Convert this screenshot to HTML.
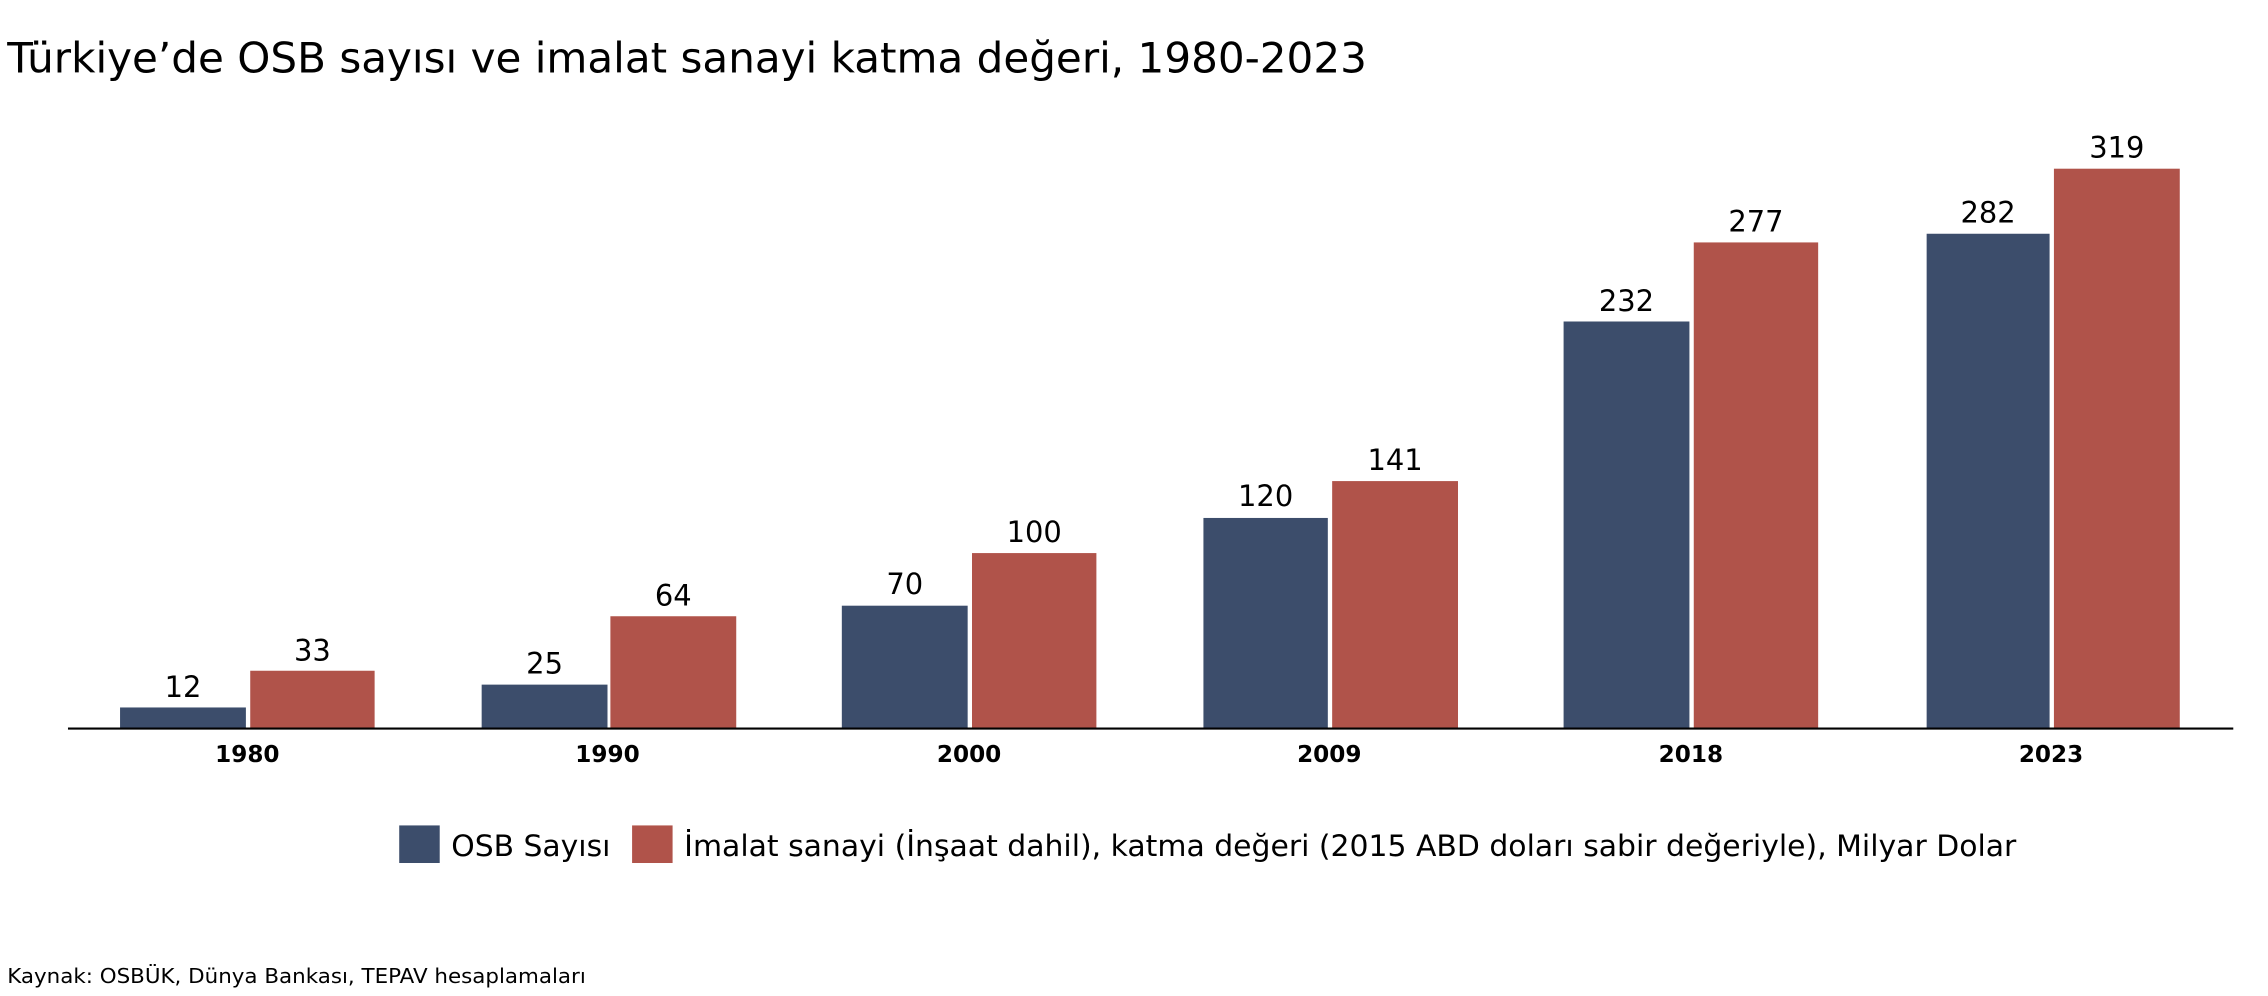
<!DOCTYPE html>
<html><head><meta charset="utf-8"><style>
html,body{margin:0;padding:0;background:#fff;}
svg{display:block;}
text{font-family:"DejaVu Sans","Liberation Sans",sans-serif;fill:#000;}
</style></head><body>
<svg width="2268" height="996" viewBox="0 0 1568 689" preserveAspectRatio="none" xmlns="http://www.w3.org/2000/svg">
<text x="5" y="50" font-size="29" textLength="940" lengthAdjust="spacingAndGlyphs">Türkiye’de OSB sayısı ve imalat sanayi katma değeri, 1980-2023</text>
<g>
<rect x="83" y="489.4" width="87" height="14.6" fill="#3c4d6b"/>
<rect x="173" y="464" width="86" height="40" fill="#b0534a"/>
<rect x="333" y="473.6" width="87" height="30.4" fill="#3c4d6b"/>
<rect x="422" y="426.3" width="87" height="77.7" fill="#b0534a"/>
<rect x="582" y="419" width="87" height="85" fill="#3c4d6b"/>
<rect x="672" y="382.6" width="86" height="121.4" fill="#b0534a"/>
<rect x="832" y="358.3" width="86" height="145.7" fill="#3c4d6b"/>
<rect x="921" y="332.8" width="87" height="171.2" fill="#b0534a"/>
<rect x="1081" y="222.4" width="87" height="281.6" fill="#3c4d6b"/>
<rect x="1171" y="167.7" width="86" height="336.3" fill="#b0534a"/>
<rect x="1332" y="161.7" width="85" height="342.3" fill="#3c4d6b"/>
<rect x="1420" y="116.7" width="87" height="387.3" fill="#b0534a"/>
</g>
<line x1="47" y1="504" x2="1544" y2="504" stroke="#000" stroke-width="1.5"/>
<g font-size="20" text-anchor="middle">
<text x="126.5" y="482">12</text><text x="216" y="457">33</text>
<text x="376.5" y="466">25</text><text x="465.5" y="419">64</text>
<text x="625.5" y="411">70</text><text x="715" y="375">100</text>
<text x="875" y="350">120</text><text x="964.5" y="325">141</text>
<text x="1124.5" y="215">232</text><text x="1214" y="160">277</text>
<text x="1374.5" y="154">282</text><text x="1463.5" y="109">319</text>
</g>
<g font-size="16" font-weight="bold" text-anchor="middle">
<text x="171" y="527">1980</text><text x="420" y="527">1990</text>
<text x="670" y="527">2000</text><text x="919" y="527">2009</text>
<text x="1169" y="527">2018</text><text x="1418" y="527">2023</text>
</g>
<rect x="276" y="571" width="28" height="26" fill="#3c4d6b"/>
<text x="312" y="592" font-size="20" textLength="110" lengthAdjust="spacingAndGlyphs">OSB Sayısı</text>
<rect x="437" y="571" width="28" height="26" fill="#b0534a"/>
<text x="473" y="592" font-size="20" textLength="921" lengthAdjust="spacingAndGlyphs">İmalat sanayi (İnşaat dahil), katma değeri (2015 ABD doları sabir değeriyle), Milyar Dolar</text>
<text x="5" y="680" font-size="14" textLength="400" lengthAdjust="spacingAndGlyphs">Kaynak: OSBÜK, Dünya Bankası, TEPAV hesaplamaları</text>
</svg>
</body></html>
